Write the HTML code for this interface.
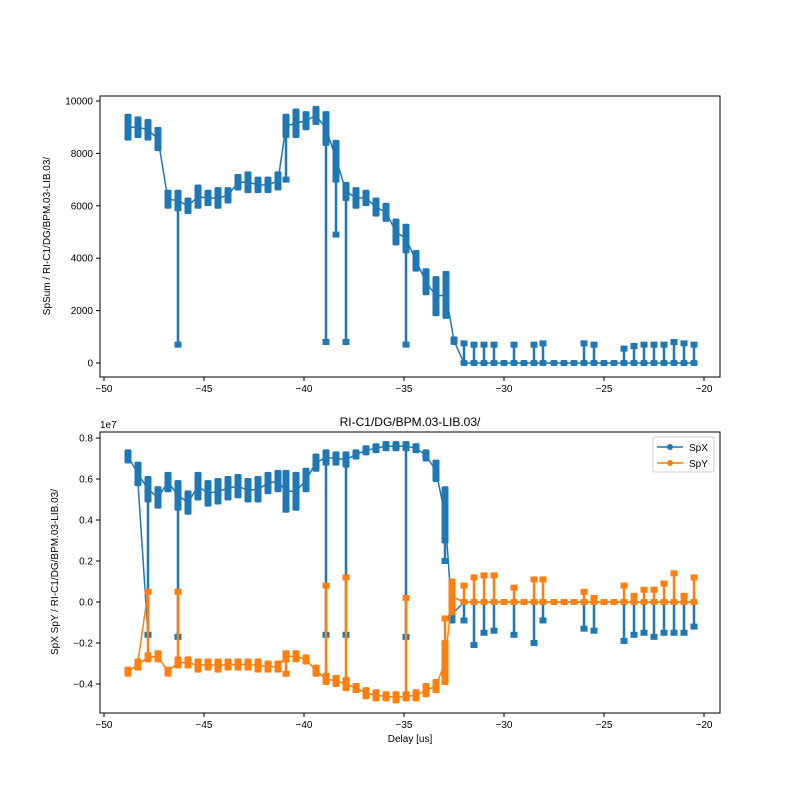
<!DOCTYPE html>
<html><head><meta charset="utf-8"><style>
body{margin:0;background:#fff}
svg{display:block;font-family:"Liberation Sans","DejaVu Sans",sans-serif}
</style></head><body>
<svg id="s" width="800" height="800" viewBox="0 0 800 800" xmlns="http://www.w3.org/2000/svg">
<rect width="800" height="800" fill="#fff"/>
<g id="top"></g><g id="bot"></g>
<rect x="100" y="96" width="620" height="281" fill="none" stroke="#000" stroke-width="1"/>
<rect x="100" y="432" width="620" height="281" fill="none" stroke="#000" stroke-width="1"/>
<g id="ax" font-size="10" fill="#000"></g>
<text x="410" y="426" font-size="12" text-anchor="middle">RI-C1/DG/BPM.03-LIB.03/</text>
<text x="100" y="428" font-size="10">1e7</text>
<text x="410" y="742" font-size="10" text-anchor="middle">Delay [us]</text>
<text transform="translate(50,236) rotate(-90)" font-size="10" text-anchor="middle">SpSum / RI-C1/DG/BPM.03-LIB.03/</text>
<text transform="translate(58,572) rotate(-90)" font-size="10" text-anchor="middle">SpX SpY / RI-C1/DG/BPM.03-LIB.03/</text>
<g>
<rect x="653" y="437" width="61" height="35" fill="#fff" stroke="#ccc" rx="2"/>
<line x1="657" y1="447" x2="683" y2="447" stroke="#1f77b4" stroke-width="1.5"/><circle cx="670" cy="447" r="3" fill="#1f77b4"/>
<text x="689" y="451" font-size="10">SpX</text>
<line x1="657" y1="463" x2="683" y2="463" stroke="#ff7f0e" stroke-width="1.5"/><circle cx="670" cy="463" r="3" fill="#ff7f0e"/>
<text x="689" y="467" font-size="10">SpY</text>
</g>
</svg>
<script>
const NS="http://www.w3.org/2000/svg";
function el(p,t,a){const e=document.createElementNS(NS,t);for(const k in a)e.setAttribute(k,a[k]);p.appendChild(e);return e;}
const ax=document.getElementById('ax');
[-50,-45,-40,-35,-30,-25,-20].forEach(v=>{const x=104+(v+50)*20;
 [377,713].forEach(y=>{el(ax,'line',{x1:x,y1:y,x2:x,y2:y+4,stroke:'#000'});const t=el(ax,'text',{x:x,y:y+15,'text-anchor':'middle'});t.textContent=String(v).replace('-','−');});});
[0,2000,4000,6000,8000,10000].forEach(v=>{const y=363-v*0.0262;el(ax,'line',{x1:96,y1:y,x2:100,y2:y,stroke:'#000'});const t=el(ax,'text',{x:93,y:y+3.5,'text-anchor':'end'});t.textContent=v;});
[-0.4,-0.2,0,0.2,0.4,0.6,0.8].forEach(v=>{const y=602-v*205;el(ax,'line',{x1:96,y1:y,x2:100,y2:y,stroke:'#000'});const t=el(ax,'text',{x:93,y:y+3.5,'text-anchor':'end'});t.textContent=(v<0?'−':'')+Math.abs(v).toFixed(1);});
function draw(g,data,fy,col,extra){
 let pts=data.map(d=>[d[0],fy((d[1]+d[2])/2)]);
 el(g,'polyline',{points:pts.map(p=>p.join(',')).join(' '),fill:'none',stroke:col,'stroke-width':1.5});
 (extra||[]).forEach(e=>el(g,'line',{x1:e[0],y1:fy(e[1]),x2:e[2],y2:fy(e[3]),stroke:col,'stroke-width':1.5}));
 data.forEach(d=>{const x=d[0],a=fy(d[1]),b=fy(d[2]);
  (d[3]||[]).forEach(s=>{const y=fy(s);el(g,'line',{x1:x,y1:Math.min(y,a,b),x2:x,y2:Math.max(y,a,b),stroke:col,'stroke-width':2.5});el(g,'rect',{x:x-3.5,y:y-3,width:7,height:6,fill:col});});
  el(g,'rect',{x:x-3.5,y:Math.min(a,b)-3,width:7,height:Math.abs(a-b)+6,fill:col,rx:1.5});
 });
}
const Z=[464,474,484,494,504,514,524,534,543,554,564,574,584,594,604,614,624,634,644,654,664,674,684,694];
const ft=v=>363-v*0.0262;
let T=[[128,8600,9400],[138,8700,9300],[148,8600,9200],[158,8200,8900],[168,6000,6500],[178,5900,6500,[700]],[188,5800,6200],[198,6000,6700],[208,6100,6500],[218,6000,6600],[228,6200,6600],[238,6700,7100],[248,6600,7200],[258,6600,7000],[268,6600,7000],[278,6700,7200],[286,8700,9400,[7000]],[296,8700,9600],[306,9000,9500],[316,9200,9700],[326,8400,9500,[800]],[336,7200,8400,[4900,7000]],[346,6300,6800,[800]],[356,6000,6600],[366,6100,6500],[376,5700,6200],[386,5500,6000],[396,4600,5400],[406,4300,5200,[700]],[416,3600,4200],[426,2700,3500],[436,1900,3200],[446,1800,3400],[454,800,900]];
const ts={464:750,474:700,484:700,494:700,514:700,534:700,543:750,584:750,594:700,624:550,634:650,644:700,654:700,664:700,674:800,684:750,694:700};
Z.forEach(x=>T.push([x,0,0,ts[x]?[ts[x]]:[]]));
draw(document.getElementById('top'),T,ft,'#1f77b4');
const fb=v=>602-v*205;
let X=[[128,0.69,0.73],[138,0.58,0.67],[148,0.50,0.60,[-0.16]],[158,0.47,0.55],[168,0.55,0.62],[178,0.46,0.58,[-0.17]],[188,0.44,0.53],[198,0.51,0.62],[208,0.48,0.58],[218,0.49,0.59],[228,0.51,0.60],[238,0.52,0.61],[248,0.50,0.59],[258,0.50,0.60],[268,0.54,0.62],[278,0.55,0.63],[286,0.45,0.63],[296,0.46,0.62],[306,0.55,0.64],[316,0.65,0.71],[326,0.68,0.73,[-0.16]],[336,0.68,0.72],[346,0.67,0.72,[-0.16]],[356,0.71,0.73],[366,0.73,0.75],[376,0.74,0.76],[386,0.75,0.77],[396,0.75,0.77],[406,0.75,0.77,[-0.17]],[416,0.74,0.76],[426,0.70,0.73],[436,0.60,0.68],[445,0.30,0.55,[0.2]],[452,-0.09,-0.03]];
const xs={464:-0.09,474:-0.21,484:-0.15,494:-0.14,514:-0.16,534:-0.20,543:-0.09,584:-0.13,594:-0.14,624:-0.19,634:-0.16,644:-0.15,654:-0.17,664:-0.15,674:-0.15,684:-0.15,694:-0.12};
Z.forEach(x=>X.push([x,0,0,xs[x]?[xs[x]]:[]]));
let Y=[[128,-0.35,-0.33],[138,-0.32,-0.29],[148,-0.28,-0.26,[0.05]],[158,-0.28,-0.25],[168,-0.35,-0.33],[178,-0.31,-0.28,[0.05]],[188,-0.31,-0.28],[198,-0.33,-0.29],[208,-0.32,-0.29],[218,-0.33,-0.29],[228,-0.32,-0.29],[238,-0.32,-0.29],[248,-0.32,-0.29],[258,-0.33,-0.29],[268,-0.33,-0.30],[278,-0.33,-0.30],[286,-0.28,-0.25,[-0.35]],[296,-0.28,-0.25],[306,-0.29,-0.27],[316,-0.35,-0.32],[326,-0.39,-0.36,[0.08]],[336,-0.40,-0.37],[346,-0.42,-0.38,[0.12]],[356,-0.43,-0.41],[366,-0.46,-0.43],[376,-0.47,-0.44],[386,-0.47,-0.45],[396,-0.48,-0.45],[406,-0.47,-0.45,[0.02]],[416,-0.47,-0.44],[426,-0.45,-0.41],[436,-0.43,-0.39],[445,-0.39,-0.20,[-0.08]],[452,-0.05,0.10]];
const ys={464:0.08,474:0.12,484:0.13,494:0.13,514:0.07,534:0.11,543:0.11,584:0.05,594:0.02,624:0.08,634:0.03,644:0.06,654:0.06,664:0.09,674:0.14,684:0.03,694:0.12};
Z.forEach(x=>Y.push([x,0,0,ys[x]?[ys[x]]:[]]));
const gb=document.getElementById('bot');
draw(gb,X,fb,'#1f77b4',[[138,0.58,148,-0.16]]);
draw(gb,Y,fb,'#ff7f0e',[[138,-0.29,148,0.05]]);
</script>
</body></html>
